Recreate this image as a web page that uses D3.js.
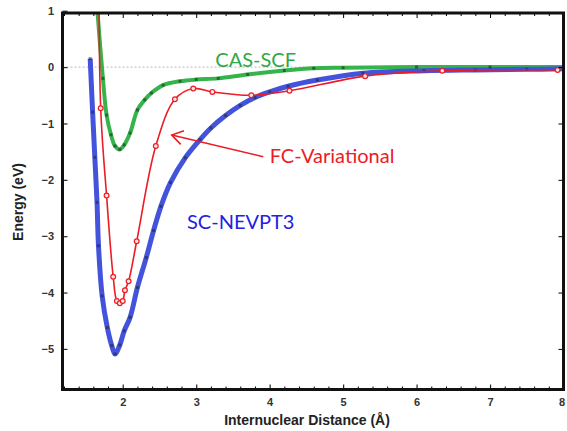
<!DOCTYPE html>
<html>
<head>
<meta charset="utf-8">
<script src="https://cdn.jsdelivr.net/npm/d3@7"></script>
<style>
  body { margin: 0; background: #fff; }
</style>
</head>
<body>
<div id="chart"></div>
<script>
        // CAS-SCF curve (green)
        var casDist   = [1.64, 1.655, 1.73, 1.78, 1.84, 1.895, 1.96, 2.02, 2.10, 2.20, 2.30, 2.39, 2.55, 2.78, 3.0, 3.3, 3.7, 4.2, 4.6, 5.0, 6.0, 7.0, 8.0];
        var casEnergy = [1.3, 1.0, -0.2, -0.85, -1.2, -1.4, -1.46, -1.38, -1.17, -0.76, -0.58, -0.46, -0.32, -0.25, -0.22, -0.2, -0.13, -0.06, -0.02, -0.01, 0, 0, 0];

        // FC-Variational (red, with markers)
        var fcDist   = [1.675, 1.70, 1.78, 1.87, 1.92, 1.96, 2.00, 2.03, 2.08, 2.19, 2.45, 2.71, 2.96, 3.22, 3.75, 4.27, 5.30, 6.35, 7.92];
        var fcEnergy = [2.5, -0.73, -2.28, -3.72, -4.15, -4.19, -4.15, -3.96, -3.80, -3.09, -1.40, -0.57, -0.38, -0.44, -0.50, -0.42, -0.16, -0.065, -0.05];

        // SC-NEVPT3 (blue)
        var scDist   = [1.557, 1.59, 1.62, 1.65, 1.67, 1.72, 1.79, 1.85, 1.895, 1.96, 2.02, 2.10, 2.20, 2.32, 2.42, 2.52, 2.65, 2.85, 3.05, 3.20, 3.40, 3.60, 3.80, 4.0, 4.25, 4.65, 5.27, 6.1, 6.8, 7.5, 8.0];
        var scEnergy = [0.15, -0.8, -1.6, -2.4, -3.17, -4.06, -4.62, -4.94, -5.09, -4.93, -4.68, -4.44, -3.91, -3.38, -2.9, -2.47, -2.05, -1.61, -1.29, -1.08, -0.86, -0.68, -0.54, -0.44, -0.34, -0.23, -0.11, -0.065, -0.05, -0.04, -0.03];

        var xTicks = [2, 3, 4, 5, 6, 7, 8];
        var yTicks = [1, 0, -1, -2, -3, -4, -5];

        var w = 567;
        var h = 431;

        var xScale = d3.scaleLinear()
                        .domain([1.18, 8])
                        .range([62.5, 563.5]);

        var yScale = d3.scaleLinear()
                        .domain([-5.72, 0.96])
                        .range([389.5, 13]);

        var svg = d3.select("#chart")
                    .append("svg")
                    .attr("width", w)
                    .attr("height", h);

        svg.append("clipPath")
            .attr("id", "plotclip")
            .append("rect")
            .attr("x", xScale.range()[0])
            .attr("y", yScale.range()[1])
            .attr("width", xScale.range()[1] - xScale.range()[0])
            .attr("height", yScale.range()[0] - yScale.range()[1]);

        // dotted zero line
        svg.append("line")
            .attr("x1", xScale(1.18))
            .attr("x2", xScale(8))
            .attr("y1", yScale(0))
            .attr("y2", yScale(0))
            .attr("stroke", "#c8c8c8")
            .attr("stroke-width", 1.2)
            .attr("stroke-dasharray", "2,2");

        var plot = svg.append("g").attr("clip-path", "url(#plotclip)");

        function pairs(xs, ys) {
            return xs.map(function(d, i) { return [d, ys[i]]; });
        }

        var line = d3.line()
                    .x(function(d) { return xScale(d[0]); })
                    .y(function(d) { return yScale(d[1]); })
                    .curve(d3.curveCatmullRom.alpha(0.5));

        // green
        plot.append("path")
            .datum(pairs(casDist, casEnergy))
            .attr("d", line)
            .attr("fill", "none")
            .attr("stroke", "#34b44a")
            .attr("stroke-width", 4);

        // blue
        plot.append("path")
            .datum(pairs(scDist, scEnergy))
            .attr("d", line)
            .attr("fill", "none")
            .attr("stroke", "#4453dc")
            .attr("stroke-width", 5);

        // small dark data marks on green and blue
        plot.selectAll("rect.mk")
            .data(pairs(casDist, casEnergy).concat(pairs(scDist, scEnergy)))
            .enter()
            .append("rect")
            .attr("class", "mk")
            .attr("x", function(d) { return xScale(d[0]) - 1.5; })
            .attr("y", function(d) { return yScale(d[1]) - 1.5; })
            .attr("width", 3)
            .attr("height", 3)
            .attr("fill", "#222")
            .attr("opacity", 0.55);

        // red
        plot.append("path")
            .datum(pairs(fcDist, fcEnergy))
            .attr("d", line)
            .attr("fill", "none")
            .attr("stroke", "#ec1c24")
            .attr("stroke-width", 1.6);

        plot.selectAll("circle")
            .data(pairs(fcDist, fcEnergy))
            .enter()
            .append("circle")
            .attr("cx", function(d) { return xScale(d[0]); })
            .attr("cy", function(d) { return yScale(d[1]); })
            .attr("r", 2.4)
            .attr("fill", "#fbe3e3")
            .attr("stroke", "#ec1c24")
            .attr("stroke-width", 1.2);

        // axes (ticks point inward)
        var axisFont = "'Liberation Sans', Arial, sans-serif";

        var x_axis = d3.axisBottom(xScale)
                    .tickValues(xTicks)
                    .tickFormat(d3.format("d"))
                    .tickSizeInner(-5)
                    .tickSizeOuter(0)
                    .tickPadding(9);

        var gx = svg.append("g")
            .attr("transform", "translate(0," + yScale.range()[0] + ")")
            .call(x_axis);

        // last label sits on the right edge, nudge it in a bit
        gx.selectAll(".tick text")
            .filter(function(d) { return d === 8; })
            .attr("dx", -2);

        var y_axis = d3.axisLeft(yScale)
                    .tickValues(yTicks)
                    .tickFormat(d3.format("d"))
                    .tickSizeInner(-5)
                    .tickSizeOuter(0)
                    .tickPadding(8.5);

        var gy = svg.append("g")
            .attr("transform", "translate(" + xScale.range()[0] + ",0)")
            .call(y_axis);

        [gx, gy].forEach(function(g) {
            g.select(".domain").remove();
            g.selectAll("line").attr("stroke", "#222").attr("stroke-width", 1.2);
            g.selectAll("text")
                .attr("font-family", axisFont)
                .attr("font-size", "11px")
                .attr("font-weight", "bold")
                .attr("fill", "#333");
        });

        // minor ticks on x, top and bottom
        var minorX = d3.range(1.2, 8, 0.2).filter(function(v) {
            return Math.abs(v - Math.round(v)) > 0.01;
        });
        var minorAxisB = d3.axisBottom(xScale).tickValues(minorX).tickSize(-3).tickFormat("");
        var minorAxisT = d3.axisTop(xScale).tickValues(minorX).tickSize(-3).tickFormat("");
        var majorAxisT = d3.axisTop(xScale).tickValues(xTicks).tickSize(-5).tickFormat("");
        var majorAxisR = d3.axisRight(yScale).tickValues(yTicks.slice(1)).tickSize(-5).tickFormat("");

        svg.append("g").attr("transform", "translate(0," + yScale.range()[0] + ")").call(minorAxisB);
        svg.append("g").attr("transform", "translate(0," + yScale.range()[1] + ")").call(minorAxisT);
        svg.append("g").attr("transform", "translate(0," + yScale.range()[1] + ")").call(majorAxisT);
        svg.append("g").attr("transform", "translate(" + xScale.range()[1] + ",0)").call(majorAxisR);
        svg.selectAll(".domain").remove();

        // frame
        svg.append("rect")
            .attr("x", xScale.range()[0])
            .attr("y", yScale.range()[1])
            .attr("width", xScale.range()[1] - xScale.range()[0])
            .attr("height", yScale.range()[0] - yScale.range()[1])
            .attr("fill", "none")
            .attr("stroke", "#111")
            .attr("stroke-width", 3);

        // axis titles
        svg.append("text")
            .attr("transform", "translate(307, 425)")
            .style("text-anchor", "middle")
            .attr("font-family", axisFont)
            .attr("font-size", "14px")
            .attr("font-weight", "bold")
            .attr("fill", "#222")
            .text("Internuclear Distance (Å)");

        svg.append("text")
            .attr("text-anchor", "middle")
            .attr("transform", "translate(23, 202) rotate(-90)")
            .attr("font-family", axisFont)
            .attr("font-size", "14px")
            .attr("font-weight", "bold")
            .attr("fill", "#222")
            .text("Energy (eV)");

        // curve labels
        var labelFont = "Lato, 'Open Sans', sans-serif";
        var labels = [
            {text: "CAS-SCF", r: 3.26, e: 0.0, color: "#2fa84a"},
            {text: "FC-Variational", r: 4.0, e: -1.70, color: "#ec1c24"},
            {text: "SC-NEVPT3", r: 2.875, e: -2.87, color: "#2222e0"}
        ];
        svg.selectAll("text.lbl")
           .data(labels)
           .enter()
           .append("text")
           .attr("class", "lbl")
           .attr("x", function(d) { return xScale(d.r); })
           .attr("y", function(d) { return yScale(d.e); })
           .attr("font-family", labelFont)
           .attr("font-size", "20px")
           .attr("fill", function(d) { return d.color; })
           .text(function(d) { return d.text; });

        // arrow from FC-Variational label to the red curve
        var tip = [xScale(2.667), yScale(-1.205)];
        var tail = [xScale(3.914), yScale(-1.59)];
        var ang = Math.atan2(tail[1] - tip[1], tail[0] - tip[0]);
        var armLen = 13, spread = 33 * Math.PI / 180;
        svg.append("line")
            .attr("x1", tail[0]).attr("y1", tail[1])
            .attr("x2", tip[0]).attr("y2", tip[1])
            .attr("stroke", "#ec1c24")
            .attr("stroke-width", 1.6);
        svg.append("path")
            .attr("d", "M" + (tip[0] + armLen * Math.cos(ang - spread)) + "," + (tip[1] + armLen * Math.sin(ang - spread)) +
                       "L" + tip[0] + "," + tip[1] +
                       "L" + (tip[0] + armLen * Math.cos(ang + spread)) + "," + (tip[1] + armLen * Math.sin(ang + spread)))
            .attr("fill", "none")
            .attr("stroke", "#ec1c24")
            .attr("stroke-width", 1.6);
</script>
</body>
</html>
